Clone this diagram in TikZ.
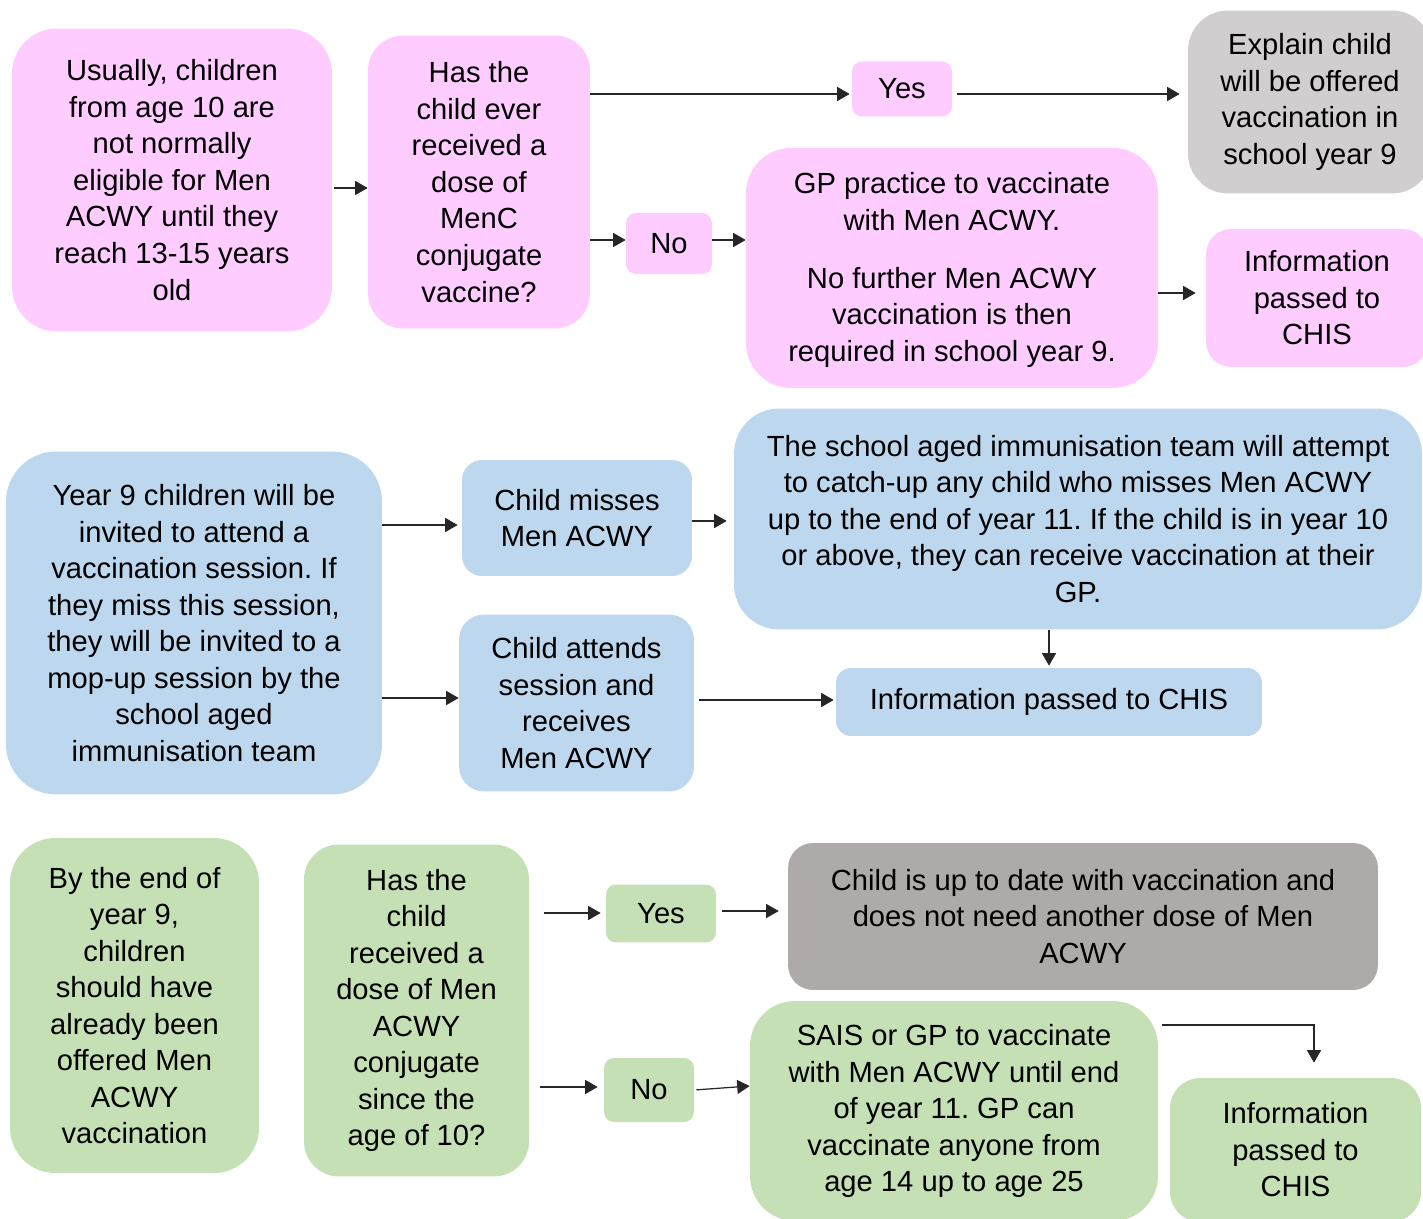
\documentclass[tikz,border=0pt]{standalone}
\usepackage{fontspec}
\setmainfont{Liberation Sans}
\usepackage{xcolor}
\usepackage{tikz}
\usetikzlibrary{positioning,calc,arrows.meta}
\definecolor{MenPink}{RGB}{255,204,255}
\definecolor{MenBlue}{RGB}{189,215,238}
\definecolor{MenGreen}{RGB}{197,224,180}
\definecolor{MenGrey}{RGB}{208,206,206}
\definecolor{MenDarkGrey}{RGB}{174,170,170}
\frenchspacing
\tikzset{
    stepnode/.style={rectangle, draw=none, align=center, inner sep=0pt, text=black, font=\fontsize{16.6}{20.8}\selectfont},
    link/.style={draw=black!85, line width=0.7pt, -{Triangle[length=0.25cm, width=0.28cm]}}
}

\begin{document}
\begin{tikzpicture}[
        % --- TOẠ ĐỘ THEO PIXEL ---
        x=0.02cm, y=-0.02cm, % 1 đơn vị = 1 pixel, trục y hướng xuống
        % --- STYLE CÁC HỘP ---
        pinkbox/.style={stepnode, fill=MenPink}, % Hàng 1
        bluebox/.style={stepnode, fill=MenBlue}, % Hàng 2
        greenbox/.style={stepnode, fill=MenGreen}, % Hàng 3
        greybox/.style={stepnode, fill=MenGrey},
        darkbox/.style={stepnode, fill=MenDarkGrey}
    ]
        \useasboundingbox (0,0) rectangle (1423,1219);

        % --- HÀNG 1: MenC ---
        \node[pinkbox, minimum width=6.4cm, minimum height=6.06cm, rounded corners=0.9cm] (eligible) at (172,180)
            {Usually, children\\from age 10 are\\not normally\\eligible for Men\\ACWY until they\\reach 13-15 years\\old};
        \node[pinkbox, minimum width=4.44cm, minimum height=5.86cm, rounded corners=0.7cm] (menc) at (479,182)
            {Has the\\child ever\\received a\\dose of\\MenC\\conjugate\\vaccine?};
        \node[pinkbox, minimum width=2cm, minimum height=1.1cm, rounded corners=0.2cm] (yesA) at (902,89) {Yes};
        \node[greybox, minimum width=4.88cm, minimum height=3.66cm, rounded corners=0.8cm] (explain) at (1310,102)
            {Explain child\\will be offered\\vaccination in\\school year 9};
        \node[pinkbox, minimum width=1.72cm, minimum height=1.22cm, rounded corners=0.2cm] (noA) at (669,243.5) {No};
        \node[pinkbox, minimum width=8.24cm, minimum height=4.8cm, rounded corners=0.9cm] (gpvacc) at (952,268)
            {\rule{0pt}{0.5cm}GP practice to vaccinate\\with Men ACWY.\\[12pt]No further Men ACWY\\vaccination is then\\required in school year 9.};
        \node[pinkbox, minimum width=4.44cm, minimum height=2.76cm, rounded corners=0.5cm] (chisA) at (1317,298)
            {Information\\passed to\\CHIS};

        \draw[link, shorten <=0.04cm] (eligible.east |- 0,188) -- (menc.west |- 0,188);
        \draw[link, shorten >=0.04cm] (menc.east |- 0,94) -- (yesA.west |- 0,94);
        \draw[link, shorten <=0.1cm, shorten >=0.16cm] (yesA.east |- 0,94) -- (explain.west |- 0,94);
        \draw[link] (menc.east |- 0,240) -- (noA.west |- 0,240);
        \draw[link] (noA.east |- 0,240) -- (gpvacc.west |- 0,240);
        \draw[link, shorten >=0.2cm] (gpvacc.east |- 0,293) -- (chisA.west |- 0,293);

        % --- HÀNG 2: Năm 9 ---
        \node[bluebox, minimum width=7.52cm, minimum height=6.86cm, rounded corners=1cm] (yearnine) at (194,623)
            {Year 9 children will be\\invited to attend a\\vaccination session. If\\they miss this session,\\they will be invited to a\\mop-up session by the\\school aged\\immunisation team};
        \node[bluebox, minimum width=4.6cm, minimum height=2.32cm, rounded corners=0.4cm] (misses) at (577,518)
            {Child misses\\Men ACWY};
        \node[bluebox, minimum width=13.76cm, minimum height=4.42cm, rounded corners=0.9cm] (catchup) at (1078,519)
            {The school aged immunisation team will attempt\\to catch-up any child who misses Men ACWY\\up to the end of year 11. If the child is in year 10\\or above, they can receive vaccination at their\\GP.};
        \node[bluebox, minimum width=4.7cm, minimum height=3.54cm, rounded corners=0.5cm] (attends) at (576.5,703)
            {Child attends\\session and\\receives\\Men ACWY};
        \node[bluebox, minimum width=8.52cm, minimum height=1.36cm, rounded corners=0.3cm] (chisB) at (1049,702)
            {Information passed to CHIS};

        \draw[link, shorten >=0.08cm] (yearnine.east |- 0,525) -- (misses.west |- 0,525);
        \draw[link, shorten >=0.14cm] (misses.east |- 0,521) -- (catchup.west |- 0,521);
        \draw[link] (yearnine.east |- 0,698) -- (attends.west |- 0,698);
        \draw[link, shorten <=0.1cm, shorten >=0.04cm] (attends.east |- 0,700) -- (chisB.west |- 0,700);
        \draw[link, shorten >=0.04cm] (chisB.north |- catchup.south) -- (chisB.north);

        % --- HÀNG 3: Cuối năm 9 ---
        \node[greenbox, minimum width=4.98cm, minimum height=6.7cm, rounded corners=0.9cm] (endnine) at (134.5,1005.5)
            {By the end of\\year 9,\\children\\should have\\already been\\offered Men\\ACWY\\vaccination};
        \node[greenbox, minimum width=4.5cm, minimum height=6.64cm, rounded corners=0.7cm] (acwy) at (416.5,1010.5)
            {Has the\\child\\received a\\dose of Men\\ACWY\\conjugate\\since the\\age of 10?};
        \node[greenbox, minimum width=2.2cm, minimum height=1.16cm, rounded corners=0.2cm] (yesB) at (661,913.5) {Yes};
        \node[darkbox, minimum width=11.8cm, minimum height=2.94cm, rounded corners=0.5cm] (uptodate) at (1083,916.5)
            {Child is up to date with vaccination and\\does not need another dose of Men\\ACWY};
        \node[greenbox, minimum width=1.8cm, minimum height=1.28cm, rounded corners=0.2cm] (noB) at (649,1090) {No};
        \node[greenbox, minimum width=8.16cm, minimum height=4.4cm, rounded corners=0.9cm] (sais) at (954,1111)
            {SAIS or GP to vaccinate\\with Men ACWY until end\\of year 11. GP can\\vaccinate anyone from\\age 14 up to age 25};
        \node[greenbox, minimum width=5.02cm, minimum height=2.88cm, rounded corners=0.6cm] (chisC) at (1295.5,1150)
            {Information\\passed to\\CHIS};

        \draw[link, shorten <=0.3cm, shorten >=0.1cm] (acwy.east |- 0,913) -- (yesB.west |- 0,913);
        \draw[link, shorten <=0.12cm, shorten >=0.18cm] (yesB.east |- 0,911) -- (uptodate.west |- 0,911);
        \draw[link, shorten <=0.22cm, shorten >=0.12cm] (acwy.east |- 0,1087) -- (noB.west |- 0,1087);
        \draw[link, shorten <=0.04cm] (noB.east) -- (sais.west |- 0,1086);
        \draw[link, shorten <=0.08cm, shorten >=0.3cm] (sais.east |- 0,1025) -| ([xshift=0.37cm]chisC.north);

    \end{tikzpicture}
\end{document}
